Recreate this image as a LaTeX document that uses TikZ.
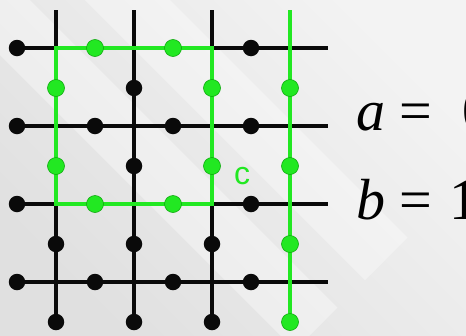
\documentclass[tikz,border=0pt]{standalone}
\usepackage{fontspec}
\newfontfamily\eqfont{Liberation Serif}
\newfontfamily\lblfont{Liberation Sans}
\usetikzlibrary{positioning}
\definecolor{gridc}{RGB}{10,10,10}
\definecolor{loopc}{RGB}{34,232,34}
\definecolor{loopdk}{RGB}{16,170,16}
\definecolor{bglt}{RGB}{243,243,243}
\definecolor{bgdk}{RGB}{224,224,224}
\tikzset{
  bline/.style={draw=gridc, line width=3.2pt},
  gline/.style={draw=loopc, line width=3.6pt},
  bdot/.style={circle, fill=gridc, inner sep=0pt, minimum size=16.5pt},
  gdot/.style={circle, fill=loopc, draw=loopdk, line width=0.6pt,
               inner sep=0pt, minimum size=17pt},
  band/.style={fill=white, opacity=0.35},
  eq/.style={font=\eqfont\fontsize{58}{60}\selectfont, text=black,
             inner sep=0pt, anchor=base west},
  clbl/.style={font=\lblfont\fontsize{32}{34}\selectfont, text=loopc, inner sep=0pt},
}

\begin{document}
\begin{tikzpicture}[x=1pt, y=-1pt]
  \useasboundingbox (0,0) rectangle (466,335);
  \clip (0,0) rectangle (466,335);
  \shade[left color=bglt, right color=bgdk, shading angle=-45]
    (0,0) rectangle (466,335);
  \fill[band] (85,0) -- (170,0) -- (407.5,237.5) -- (365,280) -- cycle;
  \fill[band] (-55,0) -- (30,0) -- (337.5,307.5) -- (295,350) -- cycle;

  % lattice vertices and line ends
  \foreach \i in {0,...,3} {
    \foreach \j in {0,...,3}
      \coordinate (v\i\j) at (56+78*\i, 48+78*\j);
    \coordinate (top\i) at (56+78*\i, 10);
    \coordinate (bot\i) at (56+78*\i, 322);
    \coordinate (lft\i) at (17, 48+78*\i);
    \coordinate (rgt\i) at (328, 48+78*\i);
  }

  % black lattice
  \foreach \i in {0,...,3} {
    \draw[bline] (lft\i) -- (rgt\i);
    \draw[bline] (top\i) -- (bot\i);
  }

  % green loop and string
  \draw[gline] (v00) -- (v20) -- (v22) -- (v02) -- cycle;
  \draw[gline] (top3) -- (bot3);

  % spins on horizontal edges
  \foreach \k/\r/\s in {0/0/bdot, 1/0/gdot, 2/0/gdot, 3/0/bdot,
                        0/1/bdot, 1/1/bdot, 2/1/bdot, 3/1/bdot,
                        0/2/bdot, 1/2/gdot, 2/2/gdot, 3/2/bdot,
                        0/3/bdot, 1/3/bdot, 2/3/bdot, 3/3/bdot}
    \node[\s] (hd\k\r) at (17+78*\k, 48+78*\r) {};

  % spins on vertical edges
  \foreach \c/\k/\s in {0/0/gdot, 0/1/gdot, 0/2/bdot, 0/3/bdot,
                        1/0/bdot, 1/1/bdot, 1/2/bdot, 1/3/bdot,
                        2/0/gdot, 2/1/gdot, 2/2/bdot, 2/3/bdot,
                        3/0/gdot, 3/1/gdot, 3/2/gdot, 3/3/gdot}
    \node[\s] (vd\c\k) at (56+78*\c, 88+78*\k) {};

  \node[clbl] (c) at (242,176) {c};

  \node[eq] (a) at (356,130) {{\itshape a} =\hspace{16pt} 0};
  \node[eq] (b) at (356,219) {{\itshape b} =\hspace{3pt} 1};
\end{tikzpicture}
\end{document}
